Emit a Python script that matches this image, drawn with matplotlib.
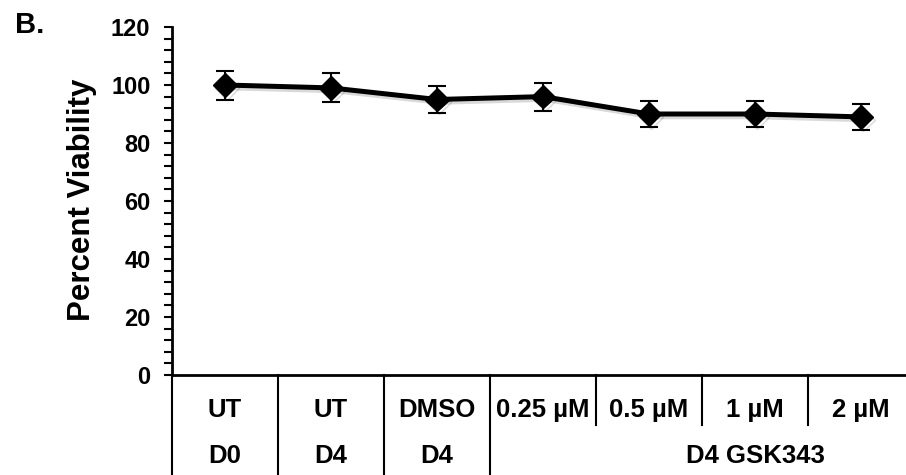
import matplotlib
matplotlib.use('Agg')
import matplotlib.pyplot as plt
import matplotlib.patheffects as pe
from matplotlib.ticker import MultipleLocator

plt.rcParams['font.family'] = ['Liberation Sans', 'DejaVu Sans']
plt.rcParams['font.weight'] = 'bold'

treatments = ['UT', 'UT', 'DMSO', '0.25 µM', '0.5 µM', '1 µM', '2 µM']
days = ['D0', 'D4', 'D4']
group_label = 'D4 GSK343'
viability = [100, 99, 95, 96, 90, 90, 89]
errors = [5, 5, 4.7, 4.8, 4.5, 4.5, 4.5]

fig = plt.figure(figsize=(9.06, 4.75), dpi=100)
ax = fig.add_axes([172 / 906, 1 - 375 / 475, 742 / 906, 348 / 475])

x = list(range(len(viability)))
line, caps, bars = ax.errorbar(x, viability, yerr=errors, color='black', lw=3.6,
                               marker='D', ms=12, capsize=6.5, capthick=1.5,
                               elinewidth=1.5, zorder=3)
shadow = [pe.SimpleLineShadow(offset=(1.5, -2), alpha=0.15), pe.Normal()]
line.set_path_effects(shadow)

ax.set_xlim(-0.5, 6.5)
ax.set_ylim(0, 120)
ax.yaxis.set_major_locator(MultipleLocator(20))
ax.yaxis.set_minor_locator(MultipleLocator(4))
ax.tick_params(axis='y', which='major', length=5.5, width=1.5, labelsize=17, pad=10)
ax.tick_params(axis='y', which='minor', length=5.5, width=1.5)
ax.set_xticks([])
for s in ['top', 'right']:
    ax.spines[s].set_visible(False)
ax.spines['left'].set_linewidth(2)
ax.spines['bottom'].set_linewidth(2)

fig.text(82 / 906, 1 - 200 / 475, 'Percent Viability', rotation=90, fontsize=22.5,
         fontweight='bold', ha='center', va='center')

# table under the axis
tr = ax.get_xaxis_transform()
for i, t in enumerate(treatments):
    ax.text(i, -35 / 348, t, transform=tr, ha='center', va='center', fontsize=18.5)
for i, d in enumerate(days):
    ax.text(i, -81 / 348, d, transform=tr, ha='center', va='center', fontsize=18.5)
ax.text(5, -81 / 348, group_label, transform=tr, ha='center', va='center', fontsize=18.5)
for b in [-0.5, 0.5, 1.5, 2.5]:
    ax.plot([b, b], [0, -0.3], transform=tr, color='black', lw=1.5, clip_on=False)
for b in [3.5, 4.5, 5.5]:
    ax.plot([b, b], [0, -0.145], transform=tr, color='black', lw=1.5, clip_on=False)

fig.text(15 / 906, 1 - 25 / 475, 'B.', fontsize=21, fontweight='bold', va='center')

fig.savefig('out.png', dpi=100)
